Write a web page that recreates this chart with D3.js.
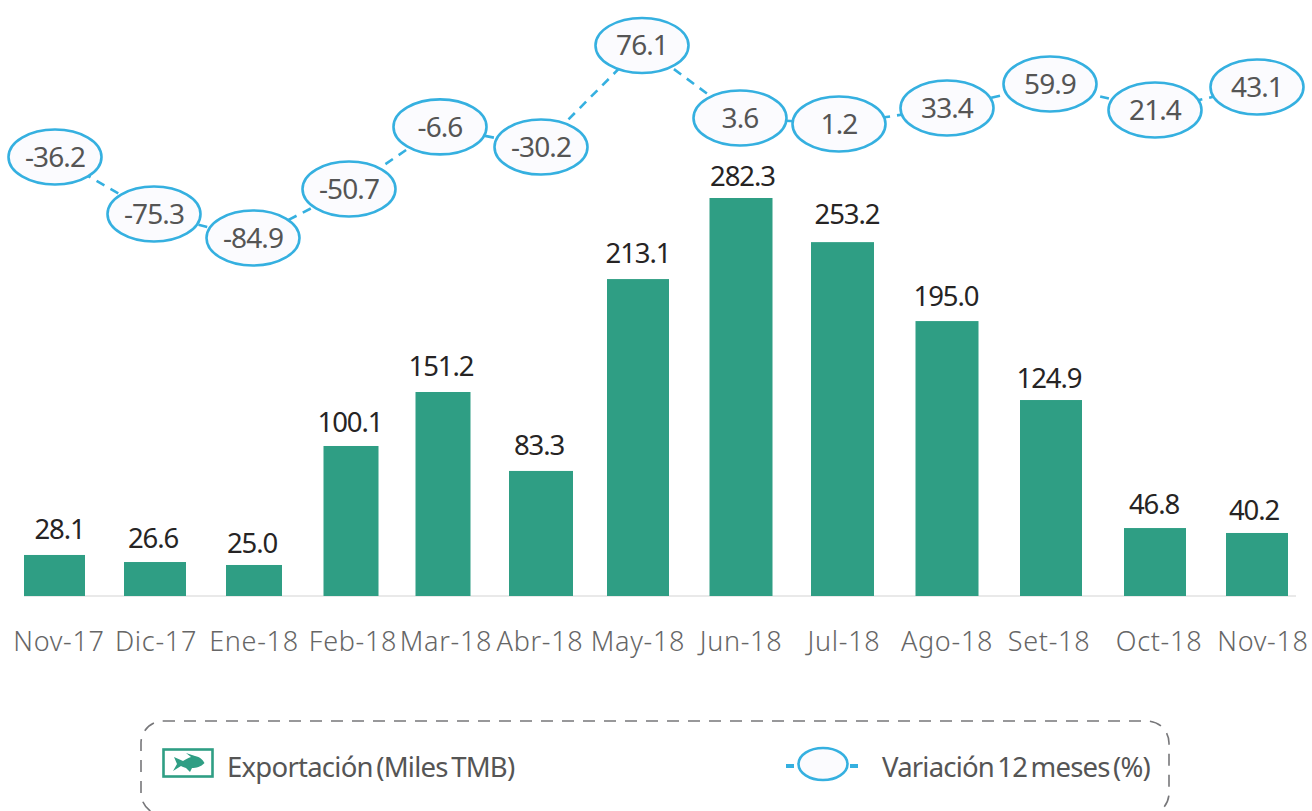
<!DOCTYPE html>
<html><head><meta charset="utf-8">
<script src="https://cdn.jsdelivr.net/npm/d3@7/dist/d3.min.js"></script>
<style>html,body{margin:0;padding:0;background:#fff}svg{display:block}text{font-family:"Noto Sans",sans-serif}</style>
</head><body><svg id="c" width="1312" height="811"></svg>
<script>
const categories=["Nov-17","Dic-17","Ene-18","Feb-18","Mar-18","Abr-18","May-18","Jun-18","Jul-18","Ago-18","Set-18","Oct-18","Nov-18"];
// printed figures
const exportLabels=["28.1","26.6","25.0","100.1","151.2","83.3","213.1","282.3","253.2","195.0","124.9","46.8","40.2"];
const variationLabels=["-36.2","-75.3","-84.9","-50.7","-6.6","-30.2","76.1","3.6","1.2","33.4","59.9","21.4","43.1"];
// the source is hand-drawn: mark heights do not follow the printed figures, so these are read off the picture
const barHeights=[29.1,24.1,22,106.4,144.7,88.7,224.8,282.3,251,195,139,48.2,44.7];
const markerLevels=[-17.7,-65,-84.9,-44.2,7.3,-9.4,74.9,14.7,9.7,23,42.9,21.3,40.4];

const svg=d3.select("#c");
const green="#2f9e84",blue="#35b0e0";
const xCenter=d3.scaleOrdinal(categories,[54.5,155,254,351,443,541,638,741,842.5,947,1051,1155,1257]);
const barW=d3.scaleOrdinal(categories,[61,62,56,55,55,64,62,63,63,63,62,62,62]);
const markerX=d3.scaleOrdinal(categories,[55,154,253,349,440,541,642,740,839,947,1050,1155,1257]);
const labelX=d3.scaleOrdinal(categories,[59,156,254,353,446,540,638,741,844,947,1049,1159,1263]);
const valueX=d3.scaleOrdinal(categories,[59.5,153,252,350,441,539,638,742.5,847,946,1049,1154,1254]);
const valueGap=d3.scaleOrdinal(categories,[16,14,12,14,16,16,16,12,18,15,12,14,13]);
const yBar=d3.scaleLinear([0,282.3],[596,198]);
const yVar=d3.scaleLinear([-84.9,76.1],[238,44]);

svg.append("line").attr("x1",24).attr("x2",1296).attr("y1",596).attr("y2",596).attr("stroke","#d4d4d4").attr("stroke-width",1.2);
svg.append("g").selectAll("rect").data(categories).join("rect")
 .attr("x",d=>xCenter(d)-barW(d)/2).attr("width",d=>barW(d))
 .attr("y",(d,i)=>yBar(barHeights[i])).attr("height",(d,i)=>yBar(0)-yBar(barHeights[i])).attr("fill",green);
svg.append("g").selectAll("text").data(categories).join("text")
 .attr("x",d=>valueX(d)).attr("y",(d,i)=>yBar(barHeights[i])-valueGap(d)).attr("text-anchor","middle")
 .attr("font-size",27.5).attr("letter-spacing",-1.1).attr("fill","#262424").text((d,i)=>exportLabels[i]);
svg.append("g").selectAll("text").data(categories).join("text")
 .attr("x",d=>labelX(d)).attr("y",651).attr("text-anchor","middle")
 .attr("font-size",27).attr("font-weight",300).attr("letter-spacing",0.7).attr("fill","#666").text(d=>d);

const line=d3.line().x(d=>markerX(d)).y((d,i)=>yVar(markerLevels[i]));
svg.append("path").attr("d",line(categories)).attr("fill","none").attr("stroke",blue).attr("stroke-width",2.6).attr("stroke-dasharray","9 7");
svg.append("g").selectAll("ellipse").data(categories).join("ellipse")
 .attr("cx",d=>markerX(d)).attr("cy",(d,i)=>yVar(markerLevels[i])).attr("rx",46.5).attr("ry",27.5)
 .attr("fill","#fbfbfe").attr("stroke",blue).attr("stroke-width",2.6);
svg.append("g").selectAll("text").data(categories).join("text")
 .attr("x",d=>markerX(d)).attr("y",(d,i)=>yVar(markerLevels[i])+10).attr("text-anchor","middle")
 .attr("font-size",28).attr("letter-spacing",-0.9).attr("fill","#555").text((d,i)=>variationLabels[i]);

// legend
svg.append("rect").attr("x",141).attr("y",721).attr("width",1028).attr("height",94).attr("rx",22)
 .attr("fill","none").attr("stroke","#77777a").attr("stroke-width",1.6).attr("stroke-dasharray","12 9");
svg.append("rect").attr("x",163.5).attr("y",749.5).attr("width",49).attr("height",27).attr("fill","#fff").attr("stroke",green).attr("stroke-width",2.6);
svg.append("path").attr("fill",green).attr("d","M174 757 L183 761 C186 759 188 758 191 757 L186 753 L195 756 C200 757 203 760 204.5 763 C201 767 196 768 192 768 L190 772 L186 768 C184 767.500 182 766.500 181 766 L173 771 L177 764 Z");
svg.append("text").attr("x",227).attr("y",777).attr("font-size",27.5).attr("letter-spacing",-0.75).attr("word-spacing",-3).attr("fill","#555").text("Exportación (Miles TMB)");
svg.append("line").attr("x1",786).attr("x2",794).attr("y1",766).attr("y2",766).attr("stroke",blue).attr("stroke-width",4);
svg.append("line").attr("x1",850).attr("x2",858).attr("y1",766).attr("y2",766).attr("stroke",blue).attr("stroke-width",4);
svg.append("ellipse").attr("cx",823).attr("cy",764).attr("rx",24.5).attr("ry",16).attr("fill","#fbfbfe").attr("stroke",blue).attr("stroke-width",2.6);
svg.append("text").attr("x",882).attr("y",777).attr("font-size",27.5).attr("letter-spacing",-0.8).attr("word-spacing",-3).attr("fill","#555").text("Variación 12 meses (%)");
</script></body></html>
